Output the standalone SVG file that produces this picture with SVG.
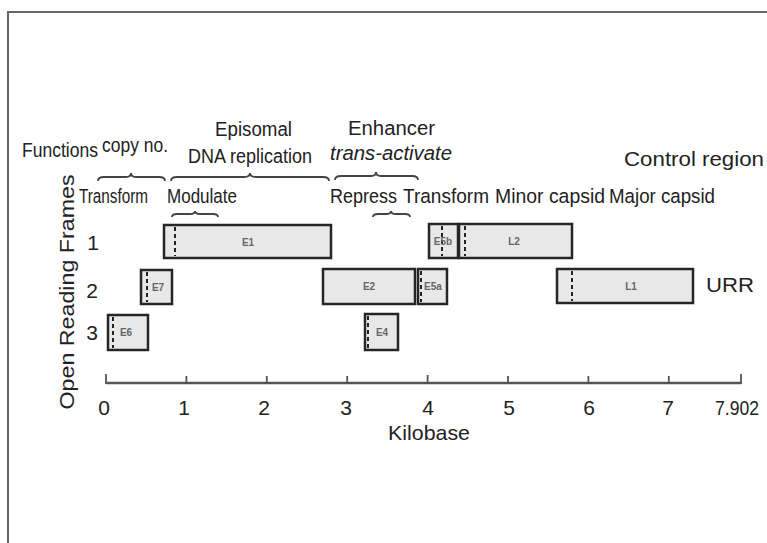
<svg xmlns="http://www.w3.org/2000/svg" width="767" height="543" viewBox="0 0 767 543">
<style>
text{font-family:"Liberation Sans",Arial,sans-serif;fill:#222}
.lbl{font-size:20px}
.sm{font-size:20.5px}
.box rect{fill:#e8e8e8;stroke:#262626;stroke-width:2.5}
.box text{font-size:10px;fill:#666;text-anchor:middle;font-weight:bold}
.dash{stroke:#222;stroke-width:2;stroke-dasharray:4 3}
.brace{fill:none;stroke:#444;stroke-width:1.8}
.axis{stroke:#555;stroke-width:2.5;fill:none}
.tick{stroke:#555;stroke-width:1.8}
.num{font-size:21px;text-anchor:middle}
</style>
<rect width="767" height="543" fill="#fff"/>
<path d="M8 543 V12 H767" fill="none" stroke="#666" stroke-width="2"/>

<g id="labels">
<text class="sm" x="22" y="157" textLength="76" lengthAdjust="spacingAndGlyphs">Functions</text>
<text class="sm" x="102" y="152" textLength="66" lengthAdjust="spacingAndGlyphs">copy no.</text>
<text class="lbl" x="215" y="136" textLength="77" lengthAdjust="spacingAndGlyphs">Episomal</text>
<text class="lbl" x="188" y="163" font-size="21" textLength="124" lengthAdjust="spacingAndGlyphs">DNA replication</text>
<text class="lbl" x="348" y="135" textLength="87" lengthAdjust="spacingAndGlyphs">Enhancer</text>
<text class="lbl" x="330" y="160" font-style="italic" textLength="122" lengthAdjust="spacingAndGlyphs">trans-activate</text>
<text class="lbl" x="624" y="166" font-size="21" textLength="140" lengthAdjust="spacingAndGlyphs">Control region</text>
<text class="sm" x="79" y="203" textLength="69" lengthAdjust="spacingAndGlyphs">Transform</text>
<text class="sm" x="167" y="203" textLength="70" lengthAdjust="spacingAndGlyphs">Modulate</text>
<text class="sm" x="330" y="203" textLength="67" lengthAdjust="spacingAndGlyphs">Repress</text>
<text class="sm" x="403" y="203" textLength="86" lengthAdjust="spacingAndGlyphs">Transform</text>
<text class="sm" x="495" y="203" textLength="110" lengthAdjust="spacingAndGlyphs">Minor capsid</text>
<text class="sm" x="609" y="203" textLength="106" lengthAdjust="spacingAndGlyphs">Major capsid</text>
<text class="lbl" x="706" y="292" font-size="21" textLength="48" lengthAdjust="spacingAndGlyphs">URR</text>
<text class="lbl" transform="translate(74 292) rotate(-90)" text-anchor="middle" font-size="22" textLength="235" lengthAdjust="spacingAndGlyphs">Open Reading Frames</text>
<text class="num" x="93" y="250">1</text>
<text class="num" x="92" y="298">2</text>
<text class="num" x="92" y="340">3</text>
</g>

<g id="connectors">
<path class="brace" d="M98 181 Q98 177 104 177 L126 177 Q131 177 131 173 Q131 177 136 177 L159 177 Q165 177 165 181"/>
<path class="brace" d="M171 181 Q171 177 177 177 L244 177 Q250 177 250 173 Q250 177 256 177 L323 177 Q329 177 329 181"/>
<path class="brace" d="M335 180 Q335 176 341 176 L371 176 Q376 176 376 172 Q376 176 381 176 L412 176 Q418 176 418 180"/>
<path class="brace" d="M172 217 Q172 214 177 214 L190 214 Q195 214 195 211 Q195 214 200 214 L213 214 Q218 214 218 217"/>
<path class="brace" d="M373 217 Q373 214 378 214 L386 214 Q391 214 391 211 Q391 214 396 214 L405 214 Q410 214 410 217"/>
</g>

<g id="E1" class="box"><rect x="164" y="225" width="167" height="33"/><line class="dash" x1="175" y1="227" x2="175" y2="256"/><text x="248" y="246">E1</text></g>
<g id="E7" class="box"><rect x="141" y="270" width="31" height="34"/><line class="dash" x1="147" y1="272" x2="147" y2="302"/><text x="158" y="291">E7</text></g>
<g id="E6" class="box"><rect x="108" y="315" width="40" height="35"/><line class="dash" x1="113" y1="317" x2="113" y2="348"/><text x="126" y="336">E6</text></g>
<g id="E2" class="box"><rect x="323" y="269" width="92" height="35"/><text x="369" y="290">E2</text></g>
<g id="E5a" class="box"><rect x="418" y="269" width="29" height="35"/><line class="dash" x1="421" y1="271" x2="421" y2="302"/><text x="433" y="290">E5a</text></g>
<g id="E4" class="box"><rect x="365" y="314" width="33" height="36"/><line class="dash" x1="368" y1="316" x2="368" y2="348"/><text x="382" y="336">E4</text></g>
<g id="E5b" class="box"><rect x="429" y="224" width="29" height="34"/><line class="dash" x1="442" y1="226" x2="442" y2="256"/><text x="443" y="245">E5b</text></g>
<g id="L2" class="box"><rect x="459" y="224" width="113" height="34"/><line class="dash" x1="465" y1="226" x2="465" y2="256"/><text x="514" y="245">L2</text></g>
<g id="L1" class="box"><rect x="557" y="269" width="136" height="34"/><line class="dash" x1="572" y1="271" x2="572" y2="301"/><text x="631" y="290">L1</text></g>

<g id="axis">
<line class="axis" x1="106" y1="383" x2="741" y2="383"/>
<g class="tick">
<line x1="106" y1="374" x2="106" y2="384"/>
<line x1="186.4" y1="376" x2="186.4" y2="384"/>
<line x1="266.8" y1="376" x2="266.8" y2="384"/>
<line x1="347.2" y1="376" x2="347.2" y2="384"/>
<line x1="427.6" y1="375" x2="427.6" y2="384"/>
<line x1="508" y1="376" x2="508" y2="384"/>
<line x1="588.4" y1="376" x2="588.4" y2="384"/>
<line x1="668.8" y1="376" x2="668.8" y2="384"/>
<line x1="741" y1="374" x2="741" y2="384"/>
</g>
<text class="num" x="104" y="415">0</text>
<text class="num" x="184" y="415">1</text>
<text class="num" x="264" y="415">2</text>
<text class="num" x="346" y="415">3</text>
<text class="num" x="428" y="415">4</text>
<text class="num" x="509" y="415">5</text>
<text class="num" x="589" y="415">6</text>
<text class="num" x="668" y="415">7</text>
<text class="num" x="737" y="415" textLength="44" lengthAdjust="spacingAndGlyphs">7.902</text>
<text class="num" x="429" y="440" textLength="82" lengthAdjust="spacingAndGlyphs">Kilobase</text>
</g>
</svg>
